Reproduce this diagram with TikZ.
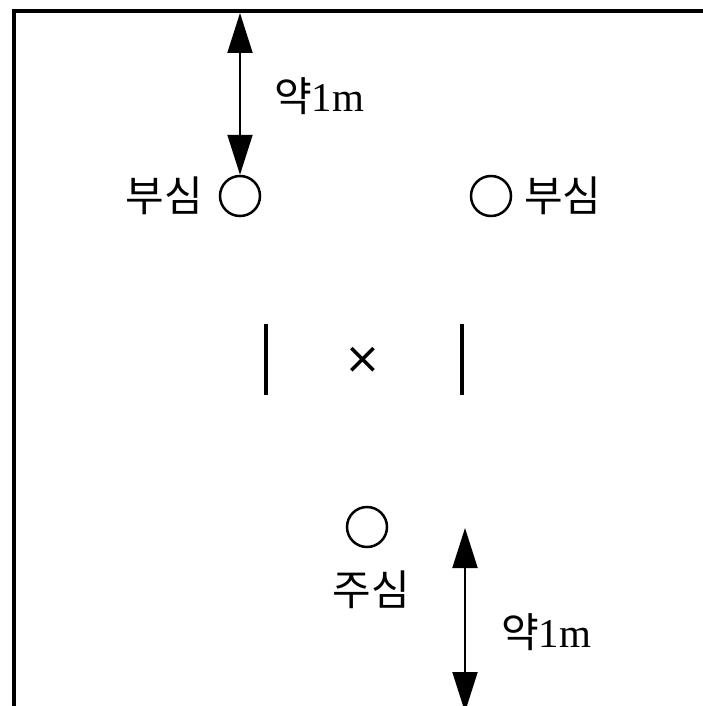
\documentclass[tikz,border=0pt]{standalone}
\usepackage{fontspec}
\setmainfont{Liberation Serif}
\newfontfamily\kr{Noto Sans CJK KR}
\newfontfamily\symfont{DejaVu Sans}
\usetikzlibrary{arrows.meta}
\begin{document}
\begin{tikzpicture}[x=1pt,y=-1pt,
  frame/.style={line width=4pt},
  dimarrow/.style={line width=2pt,{Triangle[length=40pt,width=25pt]}-{Triangle[length=40pt,width=25pt]}},
  spot/.style={circle,draw,line width=2.5pt,minimum size=40pt,inner sep=0pt},
  bar/.style={line width=4pt},
  lbl/.style={font=\kr\fontsize{42}{46}\selectfont,inner sep=0pt},
  dimlbl/.style={font=\fontsize{41}{46}\selectfont,inner sep=0pt}]
\useasboundingbox (0,0) rectangle (703,706);
\draw[frame] (14,706) -- (14,11) -- (703,11);
% circles
\node[spot] (s1) at (240,196) {};
\node[spot] (s2) at (491,196) {};
\node[spot] (m) at (367,527) {};
% labels
\node[lbl,anchor=east] (t1) at (203,196) {부심};
\node[lbl,anchor=west] (t2) at (524,196) {부심};
\node[lbl] (t3) at (371,590) {주심};
% top dimension
\coordinate (top) at (240,13);
\draw[dimarrow] (top) -- (s1.north);
\node[dimlbl,anchor=west] (d1) at (274,96) {{\kr 약}1m};
% bottom dimension
\coordinate (b1) at (465,528);
\coordinate (b2) at (465,712);
\draw[dimarrow] (b1) -- (b2);
\node[dimlbl,anchor=west] (d2) at (501,632) {{\kr 약}1m};
% bars and centre mark
\coordinate (l1) at (266,324);
\coordinate (l2) at (266,395);
\coordinate (r1) at (462,324);
\coordinate (r2) at (462,395);
\draw[bar] (l1) -- (l2);
\draw[bar] (r1) -- (r2);
\node[inner sep=0pt,font=\symfont\fontsize{44}{48}\selectfont] (x) at (363,360) {×};
\end{tikzpicture}
\end{document}
